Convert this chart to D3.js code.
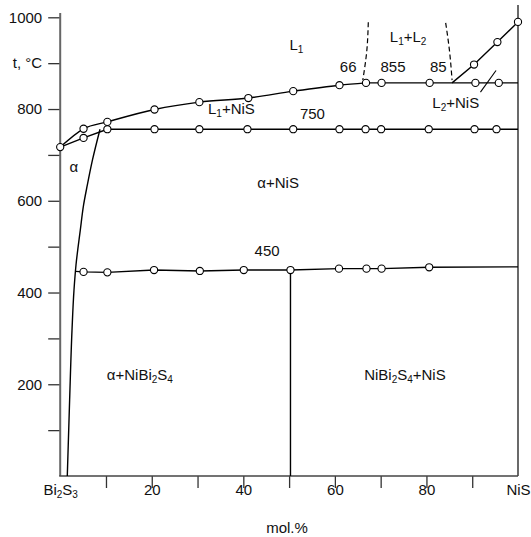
<!DOCTYPE html>
<html>
<head>
<meta charset="utf-8">
<script src="https://cdn.jsdelivr.net/npm/d3@7"></script>
<style>
  body { margin: 0; background: #fff; }
  svg text { font-family: "Liberation Sans", Arial, sans-serif; font-size: 15px; fill: #111; }
</style>
</head>
<body>
<div id="chart"></div>
<script>
// values: [mol.% NiS, t °C]
const liquidusL1 = [[0, 717], [5.1, 757], [10.3, 772], [20.6, 799], [30.4, 815], [41.1, 824], [50.9, 839], [61, 852], [66.8, 857]];
const solidusAlpha = [[0, 717], [5.1, 737], [10.3, 756]];
const alphaSolvus = [[8.7, 756], [7.05, 689], [5.92, 634], [5.11, 591], [4.39, 536], [3.45, 460], [3.01, 405], [2.58, 318], [2.06, 166], [1.55, 0]];
const liquidusL2 = [[85.6, 857], [90.4, 897], [95.5, 946], [100, 990]];
const monotectic = [[66.8, 857], [100, 857]];
const eutectic = [[10.3, 756], [100, 756]];
const peritectoid = [[3.3, 446], [5.1, 445], [10.3, 444], [20.5, 449], [30.5, 447], [40.1, 449], [50.3, 449], [60.9, 452], [66.9, 452], [70.2, 452], [80.6, 455], [100, 456]];
const compound = [[50.3, 0], [50.3, 449]];
const domeLeft = [[67.3, 989], [67.0, 930], [66.1, 863]];
const domeRight = [[84.2, 988], [85.0, 930], [85.6, 863]];
const slash = [[91.8, 837], [95.2, 884]];

const liquidusPoints = [[0, 717], [5.1, 757], [10.3, 772], [20.6, 799], [30.4, 815], [41.1, 824], [50.9, 839], [61, 852]];
const solidusPoints = [[5.1, 737]];
const monotecticPoints = [[66.8, 857], [70.2, 857], [80.7, 857], [90.7, 857], [95.8, 857]];
const eutecticPoints = [[10.3, 756], [20.6, 756], [30.4, 756], [40.9, 756], [50.9, 756], [61, 756], [66.7, 756], [70.1, 756], [80.5, 756], [90.5, 756], [95.3, 756]];
const peritectoidPoints = [[5.1, 445], [10.3, 444], [20.5, 449], [30.5, 447], [40.1, 449], [50.3, 449], [60.9, 452], [66.9, 452], [70.2, 452], [80.6, 455]];
const liquidusL2Points = [[90.4, 897], [95.5, 946], [100, 990]];

const yTicks = [100, 200, 300, 400, 500, 600, 700, 800, 900, 1000];
const yTickLabels = { 200: "200", 400: "400", 600: "600", 800: "800", 900: "t, °C", 1000: "1000" };
const xTicks = [10, 20, 30, 40, 50, 60, 70, 80, 90];
const xTickLabels = { 0: "Bi_2S_3", 20: "20", 40: "40", 60: "60", 80: "80", 100: "NiS" };

// region labels: [text, mol.%, t]
const regionLabels = [
  ["L_1", 51.6, 928],
  ["66", 62.9, 880],
  ["L_1+L_2", 76.0, 946],
  ["855", 72.7, 881],
  ["85", 82.6, 881],
  ["L_1+NiS", 37.4, 790],
  ["750", 55.1, 779],
  ["L_2+NiS", 86.4, 803],
  ["α+NiS", 47.6, 628],
  ["α", 3.0, 663],
  ["450", 45.2, 479],
  ["α+NiBi_2S_4", 17.4, 209],
  ["NiBi_2S_4+NiS", 75.3, 209]
];

const width = 531, height = 537;

const svg = d3.select('#chart').append('svg')
  .attr('width', width)
  .attr('height', height);

const x = d3.scaleLinear().domain([0, 100]).range([60.2, 518]);
const y = d3.scaleLinear().domain([0, 1000]).range([476, 17.3]);

// write "_2" style subscripts as tspans
function richText(sel, str) {
  sel.text(null);
  const parts = str.split(/(_\d)/).filter(p => p.length);
  let down = false;
  parts.forEach(p => {
    if (p[0] === '_') {
      sel.append('tspan').attr('font-size', '10px').attr('dy', down ? 0 : 3).text(p[1]);
      down = true;
    } else {
      sel.append('tspan').attr('dy', down ? -3 : 0).text(p);
      down = false;
    }
  });
}

// axes
const yAxis = d3.axisLeft(y).tickValues(yTicks).tickSize(12).tickPadding(6)
  .tickFormat(d => yTickLabels[d] || '');
svg.append('g')
  .attr('transform', 'translate(' + x(0) + ',0)')
  .call(yAxis)
  .call(g => g.select('.domain').remove())
  .call(g => g.selectAll('.tick line').attr('stroke', '#333').attr('stroke-width', 1.3))
  .call(g => g.selectAll('text').style('font-size', '15px').attr('fill', '#111'));

const xAxis = d3.axisBottom(x).tickValues(xTicks).tickSize(12).tickFormat('');
svg.append('g')
  .attr('transform', 'translate(0,' + y(0) + ')')
  .call(xAxis)
  .call(g => g.select('.domain').remove())
  .call(g => g.selectAll('.tick line').attr('stroke', '#333').attr('stroke-width', 1.3));

const xLabelAxis = d3.axisBottom(x).tickValues([0, 20, 40, 60, 80, 100]).tickSize(0).tickPadding(19)
  .tickFormat(d => xTickLabels[d]);
svg.append('g')
  .attr('transform', 'translate(0,' + y(0) + ')')
  .call(xLabelAxis)
  .call(g => g.select('.domain').remove())
  .call(g => g.selectAll('text').style('font-size', '15px').attr('fill', '#111')
    .each(function (d) { richText(d3.select(this), xTickLabels[d]); }));

// frame lines
svg.append('line').attr('x1', x(0)).attr('x2', x(0)).attr('y1', 13).attr('y2', y(0))
  .attr('stroke', '#666').attr('stroke-width', 2);
svg.append('line').attr('x1', x(100)).attr('x2', x(100)).attr('y1', 5).attr('y2', y(0))
  .attr('stroke', '#444').attr('stroke-width', 1.6);
svg.append('line').attr('x1', x(0) - 1).attr('x2', x(100)).attr('y1', y(0)).attr('y2', y(0))
  .attr('stroke', '#444').attr('stroke-width', 1.6);

svg.append('text').attr('x', 287).attr('y', 533).attr('text-anchor', 'middle').text('mol.%');

// phase lines
const straight = d3.line().x(d => x(d[0])).y(d => y(d[1]));
const smooth = d3.line().x(d => x(d[0])).y(d => y(d[1])).curve(d3.curveMonotoneX);
const smoothY = d3.line().x(d => x(d[0])).y(d => y(d[1])).curve(d3.curveMonotoneY);

const lines = [
  [liquidusL1, smooth],
  [solidusAlpha, straight],
  [alphaSolvus, smoothY],
  [liquidusL2, straight],
  [monotectic, straight],
  [eutectic, straight],
  [peritectoid, straight],
  [compound, straight]
];
lines.forEach(([data, gen]) => {
  svg.append('path').datum(data)
    .attr('d', gen)
    .attr('fill', 'none')
    .attr('stroke', '#000')
    .attr('stroke-width', 1.4);
});

svg.append('path').datum(slash)
  .attr('d', straight)
  .attr('fill', 'none')
  .attr('stroke', '#000')
  .attr('stroke-width', 1.1);

[domeLeft, domeRight].forEach(data => {
  svg.append('path').datum(data)
    .attr('d', smoothY)
    .attr('fill', 'none')
    .attr('stroke', '#000')
    .attr('stroke-width', 1.2)
    .attr('stroke-dasharray', '5,3');
});

// measured points
const allPoints = [].concat(liquidusPoints, solidusPoints, monotecticPoints, eutecticPoints, peritectoidPoints, liquidusL2Points);
svg.selectAll('.pt')
  .data(allPoints)
  .enter()
  .append('circle')
  .attr('class', 'pt')
  .attr('cx', d => x(d[0]))
  .attr('cy', d => y(d[1]))
  .attr('r', 3.6)
  .attr('fill', '#fff')
  .attr('stroke', '#000')
  .attr('stroke-width', 1.1);

// region labels
svg.selectAll('.lbl')
  .data(regionLabels)
  .enter()
  .append('text')
  .attr('class', 'lbl')
  .attr('x', d => x(d[1]))
  .attr('y', d => y(d[2]))
  .attr('dy', '0.35em')
  .attr('text-anchor', 'middle')
  .each(function (d) { richText(d3.select(this), d[0]); });
</script>
</body>
</html>
